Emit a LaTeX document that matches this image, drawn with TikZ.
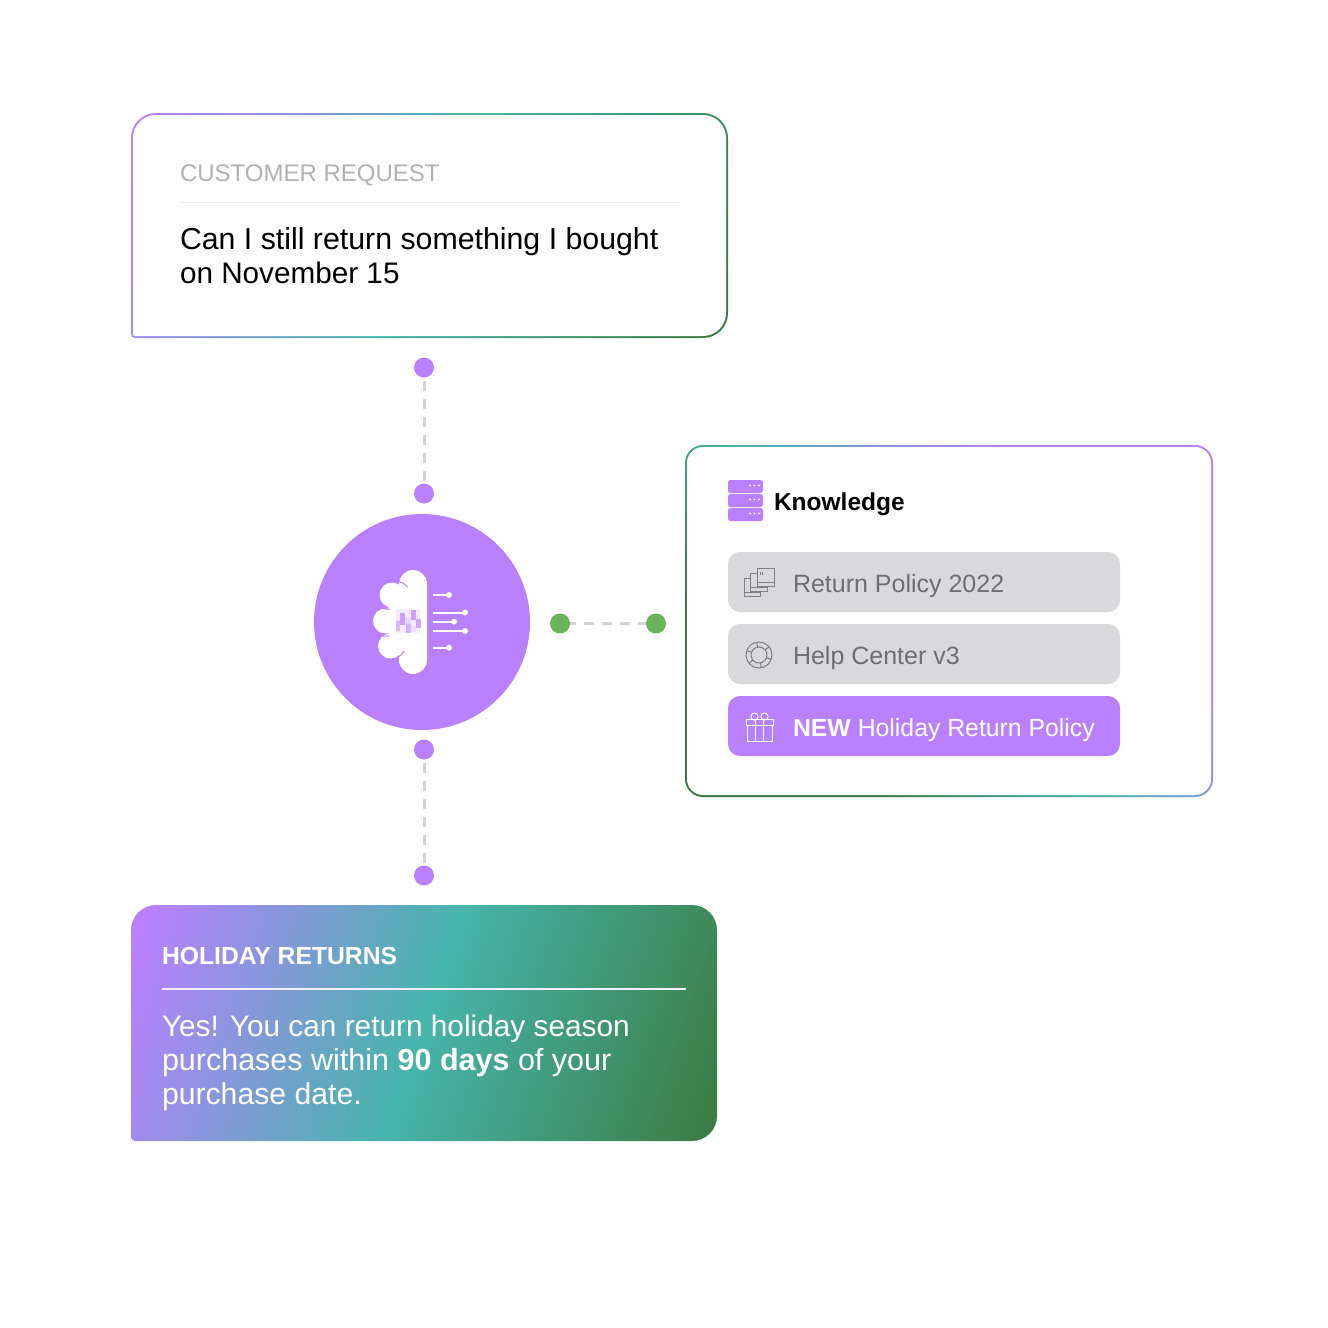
\documentclass[tikz,border=0pt]{standalone}
\usepackage{fontspec}
\setmainfont{Liberation Sans}
\definecolor{vio}{HTML}{B980FF}
\definecolor{tealc}{HTML}{46B5AB}
\definecolor{grn}{HTML}{3B7A3F}
\definecolor{dotg}{HTML}{6AB35B}
\definecolor{dashc}{HTML}{D3D3D3}
\definecolor{rowg}{HTML}{D9D8DB}
\definecolor{rowt}{HTML}{6E6E70}
\definecolor{icong}{HTML}{7F7F82}
\pgfdeclarehorizontalshading{gradA}{100bp}{color(0bp)=(vio); color(20bp)=(vio); color(50bp)=(tealc); color(82bp)=(grn); color(100bp)=(grn)}
\pgfdeclarehorizontalshading{gradB}{100bp}{color(0bp)=(vio); color(33bp)=(vio); color(53bp)=(tealc); color(69bp)=(grn); color(100bp)=(grn)}
\tikzset{
  txt/.style={anchor=base west,inner sep=0pt,outer sep=0pt},
  vdot/.style={circle,fill=vio,minimum size=20pt,inner sep=0pt,outer sep=0pt},
  gdot/.style={circle,fill=dotg,minimum size=20pt,inner sep=0pt,outer sep=0pt},
  dashl/.style={draw=dashc,line width=3pt,dash pattern=on 10pt off 8pt,shorten >=3pt,shorten <=3pt},
  dashh/.style={draw=dashc,line width=3pt,dash pattern=on 10pt off 8pt,dash phase=4pt},
  rowbox/.style={anchor=north west,rounded corners=12pt,minimum width=392pt,minimum height=60pt,inner sep=0pt,outer sep=0pt},
  thinic/.style={draw=icong,line width=1pt},
  whic/.style={draw=white,line width=1pt}
}
\newcommand{\sz}[2]{\fontsize{#1pt}{#2pt}\selectfont}
\begin{document}
\begin{tikzpicture}[x=1pt,y=-1pt]
\useasboundingbox (0,0) rectangle (1328,1328);
\fill[white] (0,0) rectangle (1328,1328);
% customer request card
\path[shade,shading=gradA,shading angle=-25]
  (430,113) [rounded corners=25pt] -- (728,113) -- (728,338) [rounded corners=4pt] -- (131,338) [rounded corners=25pt] -- (131,113) -- cycle;
\path[fill=white!99!vio]
  (430,115) [rounded corners=23pt] -- (726,115) -- (726,336) [rounded corners=2pt] -- (133,336) [rounded corners=23pt] -- (133,115) -- cycle;
\node[txt,text=black!30] (reqh) at (180,181.5) {\sz{24}{30}CUSTOMER REQUEST};
\draw[draw=black!7,line width=1pt] (180,202.5) -- (680,202.5);
\node[txt,text=black] (reqt) at (180,249) {\sz{30.3}{34}\vtop{\hbox{Can I still return something I bought}\hbox{\sz{29.7}{34}on November 15}}};
% knowledge card
\path[shade,shading=gradB,shading angle=225,rounded corners=18pt] (685,445) rectangle (1213,797);
\path[fill=white!99!vio,rounded corners=16pt] (687,447) rectangle (1211,795);
\foreach \y in {480,494,508}{
  \fill[vio,rounded corners=2.5pt] (728,\y) rectangle (763,\y+13);
  \foreach \x in {750,754.5,759}{\fill[white] (\x,\y+5.5) circle (1.1pt);}
}
\node[txt,text=black] (know) at (774,510) {\sz{24.5}{30}\textbf{Knowledge}};
\node[rowbox,fill=rowg] (r1) at (728,552) {};
\node[rowbox,fill=rowg] (r2) at (728,624) {};
\node[rowbox,fill=vio] (r3) at (728,696) {};
\node[txt,text=rowt] (r1t) at (793,592) {\sz{25}{30}Return Policy 2022};
\node[txt,text=rowt] (r2t) at (793,664) {\sz{25}{30}Help Center v3};
\node[txt,text=white] (r3t) at (793,736) {\sz{24.8}{30}\textbf{NEW} Holiday Return Policy};
% doc icon
\draw[thinic,fill=rowg] (744,578.5) rectangle (760.5,596.5);
\draw[thinic] (744,592.5) -- (760.5,592.5);
\draw[thinic,fill=rowg] (750.5,573.5) rectangle (767,591.5);
\draw[thinic] (750.5,587.5) -- (767,587.5);
\draw[thinic,fill=rowg] (757.5,568.5) rectangle (774,586.5);
\draw[thinic] (757.5,582.5) -- (774,582.5);
\draw[thinic] (760,571.5) -- (760,574.5) (762.5,571.5) -- (762.5,574.5);
% help icon
\draw[thinic] (759,655) circle (13pt) (759,655) circle (8pt);
\foreach \a in {20,80,140,200,260,320}{\draw[thinic] (759,655) ++(\a:8) -- ++(\a:5);}
% gift icon
\draw[whic] (747,725) rectangle (772,741.5);
\draw[whic,fill=vio] (746,719) rectangle (773,725);
\draw[whic] (755.5,719) -- (755.5,741.5) (763,719) -- (763,741.5);
\draw[whic] (754.5,716.5) circle (3.6pt) (764.5,716.5) circle (3.6pt);
% brain hub
\node[circle,fill=vio,minimum size=216pt,inner sep=0pt,outer sep=0pt] (hub) at (422,622) {};
\fill[white,rounded corners=14pt] (399,570) rectangle (427,674);
\fill[white] (392,595) circle (12.5pt) (385.5,621) circle (12.5pt) (390.5,646) circle (12.5pt);
\fill[white] (388,600) rectangle (410,642);
\draw[vio,line width=1pt,line cap=round] (399,581.5) .. controls (402,582) and (405,584) .. (407.3,587.3);
\draw[vio,line width=1pt,line cap=round] (380,606.7) .. controls (383,608.5) and (386,609.5) .. (389.3,609.3);
\draw[vio,line width=1pt,line cap=round] (380,635) .. controls (383,636) and (385.5,636.5) .. (388.3,636);
\draw[vio,line width=1pt,line cap=round] (398.3,656.7) .. controls (400.5,656) and (402.5,654) .. (404,651);
\foreach \y/\e in {595/449,612.5/465,621.7/454,631/465,647.7/449}{
  \draw[white,line width=2pt] (433,\y) -- (\e,\y);
  \fill[white] (\e,\y) circle (3pt);
}
\fill[vio!14] (396,609) rectangle (420,633);
\fill[vio!75] (400,613) rectangle (405,625);
\fill[vio!55] (396,621) rectangle (400,631);
\fill[vio!35] (405,618) rectangle (411,624);
\fill[vio!75] (411,610) rectangle (416,620);
\fill[vio!60] (406,624) rectangle (411,633);
\fill[vio!70] (416,619) rectangle (421,628);
\fill[vio!25] (411,626) rectangle (416,632);
% dots
\node[vdot] (d1) at (424,367.5) {};
\node[vdot] (d2) at (424,493.5) {};
\node[vdot] (d3) at (424,749.5) {};
\node[vdot] (d4) at (424,875.5) {};
\node[gdot] (g1) at (560,623.5) {};
\node[gdot] (g2) at (656,623.5) {};
\draw[dashl] (d1) -- (d2);
\draw[dashl] (d3) -- (d4);
\draw[dashh] (g1) -- (g2);
% answer card
\path[shade,shading=gradA,shading angle=-19]
  (430,905) [rounded corners=25pt] -- (717,905) -- (717,1141) [rounded corners=4pt] -- (131,1141) [rounded corners=25pt] -- (131,905) -- cycle;
\node[txt,text=white] (ansh) at (162,964) {\sz{24.7}{30}\textbf{HOLIDAY RETURNS}};
\draw[draw=white!85!vio,line width=1.5pt] (162,989) -- (686,989);
\node[txt,text=white] (anst) at (162,1036) {\sz{29.8}{34}\vtop{\hbox{Yes! You can return holiday season}\hbox{\sz{30.5}{34}purchases within \textbf{90 days} of your}\hbox{\sz{30.2}{34}purchase date.}}};
\end{tikzpicture}
\end{document}
